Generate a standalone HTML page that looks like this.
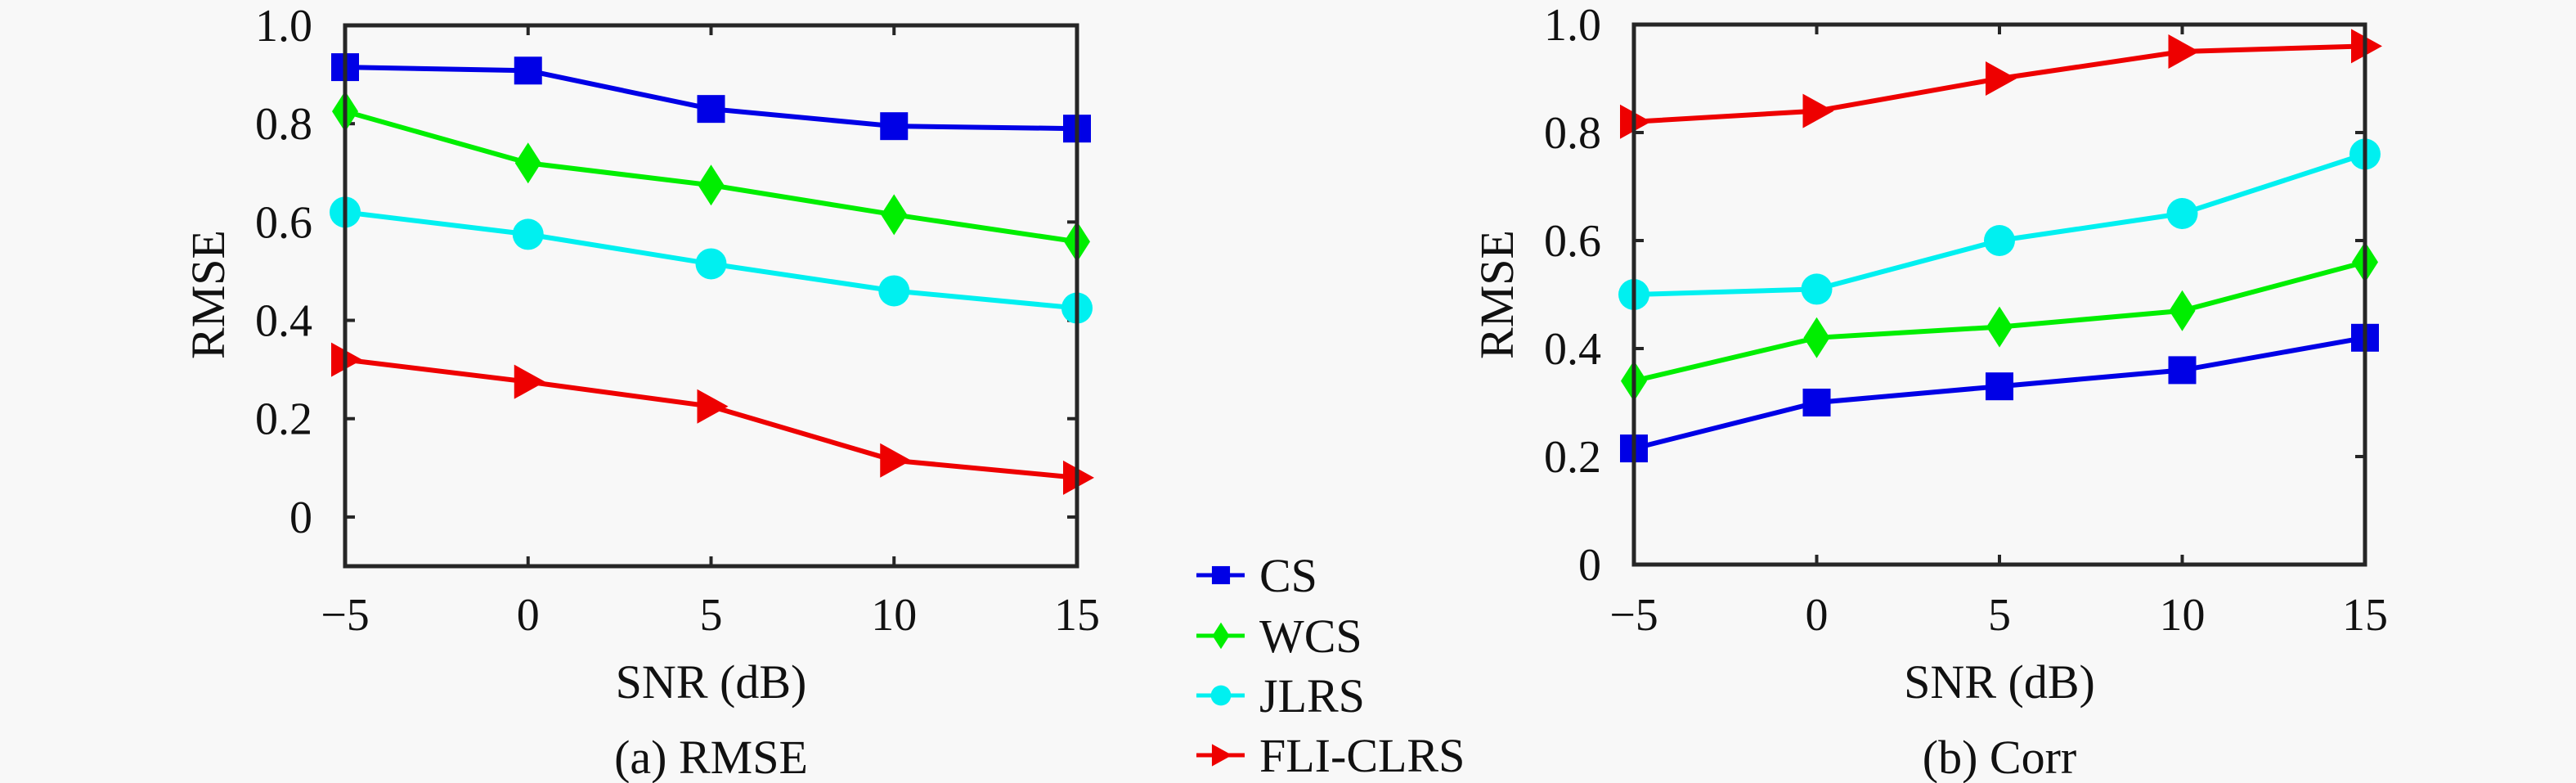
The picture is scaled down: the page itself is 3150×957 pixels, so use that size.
<!DOCTYPE html>
<html><head><meta charset="utf-8">
<style>
html,body{margin:0;padding:0;background:#f8f8f8;}
svg{display:block;}
svg text{font-family:"Liberation Serif","DejaVu Serif",serif !important;fill:#111;}
</style></head>
<body>
<svg id="fig" width="3150" height="957" viewBox="0 0 3150 957" xmlns="http://www.w3.org/2000/svg" font-family="Liberation Serif, DejaVu Serif, serif">
<rect width="3150" height="957" fill="#f8f8f8"/>
</svg>
<script>
const snr = [-5, 0, 5, 10, 15];
const xTicks = [-5, 0, 5, 10, 15];
const seriesNames = ["CS", "WCS", "JLRS", "FLI-CLRS"];
const rmseCS = [0.915, 0.908, 0.83, 0.795, 0.79];
const rmseWCS = [0.825, 0.72, 0.675, 0.615, 0.56];
const rmseJLRS = [0.62, 0.575, 0.515, 0.46, 0.425];
const rmseFLI = [0.32, 0.275, 0.225, 0.115, 0.08];
const corrCS = [0.215, 0.30, 0.33, 0.36, 0.42];
const corrWCS = [0.34, 0.42, 0.44, 0.47, 0.56];
const corrJLRS = [0.50, 0.51, 0.60, 0.65, 0.76];
const corrFLI = [0.82, 0.84, 0.90, 0.95, 0.96];
const yTicksA = [0, 0.2, 0.4, 0.6, 0.8, 1.0];
const yTickLabelsA = ["0", "0.2", "0.4", "0.6", "0.8", "1.0"];
const yTicksB = [0, 0.2, 0.4, 0.6, 0.8, 1.0];
const yTickLabelsB = ["0", "0.2", "0.4", "0.6", "0.8", "1.0"];

const NS = "http://www.w3.org/2000/svg";
const svg = document.getElementById('fig');
const FONT = "'Liberation Serif', 'DejaVu Serif', serif";
function mk(tag, attrs, parent){const e=document.createElementNS(NS,tag);for(const k in attrs)e.setAttribute(k,attrs[k]);if(tag==='text'){e.setAttribute('font-family',FONT);e.style.fontFamily=FONT;}(parent||svg).appendChild(e);return e;}
const colors = ["#0000e6", "#00ee00", "#00f0f0", "#ee0000"];
const markers = ["square", "diamond", "circle", "triangle"];

function drawMarker(g, type, cx, cy, col, s){
  let m;
  if(type==="square") m=mk('rect',{x:cx-17*s,y:cy-17*s,width:34*s,height:34*s,fill:col},g);
  else if(type==="circle") m=mk('circle',{cx:cx,cy:cy,r:19*s,fill:col},g);
  else if(type==="diamond") m=mk('polygon',{points:`${cx},${cy-25*s} ${cx+16*s},${cy} ${cx},${cy+25*s} ${cx-16*s},${cy}`,fill:col},g);
  else m=mk('polygon',{points:`${cx-17*s},${cy-21*s} ${cx+21*s},${cy} ${cx-17*s},${cy+21*s}`,fill:col},g);
  return m;
}

function panel(name, L, R, T, B, ymin, ymax, yTicks, yLabels, data, caption, ylabX){
  const g = mk('g',{});
  
  
  const xs = v => L + (v - (-5)) / 20 * (R - L);
  const ys = v => B - (v - ymin) / (ymax - ymin) * (B - T);
  xTicks.forEach(t=>{
    const x=xs(t);
    mk('line',{x1:x,y1:B,x2:x,y2:B-12,stroke:'#262626','stroke-width':4},g);
    mk('line',{x1:x,y1:T,x2:x,y2:T+12,stroke:'#262626','stroke-width':4},g);
    const tx=mk('text',{x:x,y:770,'font-size':56,'text-anchor':'middle'},g);
    tx.textContent = t<0 ? "\u2212"+Math.abs(t) : String(t);
    
    
  });
  yTicks.forEach((t,i)=>{
    const y=ys(t);
    mk('line',{x1:L,y1:y,x2:L+12,y2:y,stroke:'#262626','stroke-width':4},g);
    mk('line',{x1:R,y1:y,x2:R-12,y2:y,stroke:'#262626','stroke-width':4},g);
    const tx=mk('text',{x:L-40,y:y+19,'font-size':56,'text-anchor':'end'},g);
    tx.textContent = yLabels[i];
    
    
  });
  data.forEach((vals, si)=>{
    const sg = mk('g',{},g);
    
    
    const pts = vals.map((v,i)=>xs(snr[i])+','+ys(v)).join(' ');
    mk('polyline',{points:pts,fill:'none',stroke:colors[si],'stroke-width':6},sg);
    vals.forEach((v,i)=>{
      const m = drawMarker(sg, markers[si], xs(snr[i]), ys(v), colors[si], 1);
      
      
    });
  });
  const box = mk('rect',{x:L,y:T,width:R-L,height:B-T,fill:'none',stroke:'#262626','stroke-width':5},g);
  
  
  const xl = mk('text',{x:(L+R)/2,y:853,'font-size':58,'text-anchor':'middle'},g);
  xl.textContent = "SNR (dB)";
  
  
  const yl = mk('text',{x:ylabX,y:360,'font-size':58,'text-anchor':'middle',transform:`rotate(-90 ${ylabX} 360)`,dy:20},g);
  yl.textContent = "RMSE";
  
  
  const cap = mk('text',{x:(L+R)/2,y:945,'font-size':58,'text-anchor':'middle'},g);
  cap.textContent = caption;
  
  
}

panel('rmse-panel', 422, 1317, 31, 692, -0.1, 1.0, yTicksA, yTickLabelsA,
  [rmseCS, rmseWCS, rmseJLRS, rmseFLI], "(a) RMSE", 254);
panel('corr-panel', 1998, 2892, 30, 690, 0, 1.0, yTicksB, yTickLabelsB,
  [corrCS, corrWCS, corrJLRS, corrFLI], "(b) Corr", 1830);

const lg = mk('g',{});


const legY = [703, 777, 850, 923];
seriesNames.forEach((n,i)=>{
  const eg = mk('g',{},lg);
  
  
  mk('line',{x1:1463,y1:legY[i],x2:1522,y2:legY[i],stroke:colors[i],'stroke-width':5},eg);
  drawMarker(eg, markers[i], 1493, legY[i], colors[i], 0.65);
  const t = mk('text',{x:1540,y:legY[i]+20,'font-size':58},eg);
  t.textContent = n;
});
</script>
</body></html>
